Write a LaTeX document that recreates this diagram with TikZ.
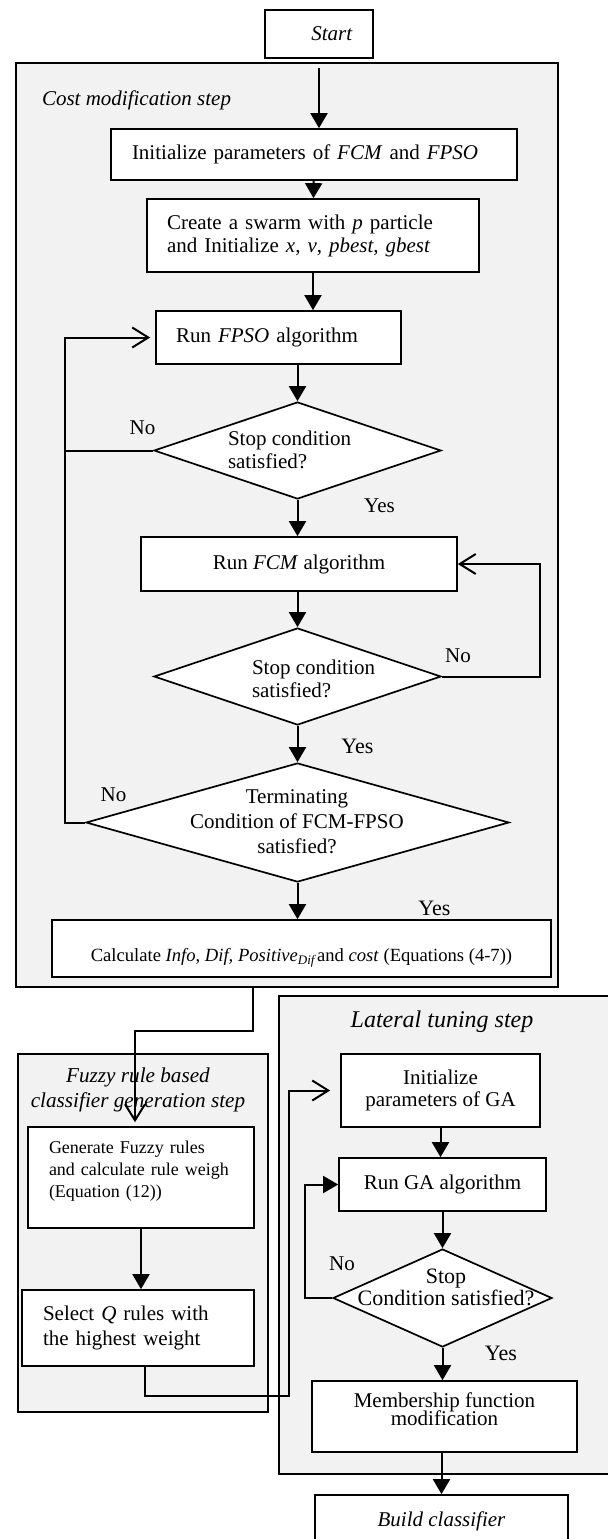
\documentclass[tikz,border=0pt]{standalone}
\usepackage{fontspec}
\setmainfont{Liberation Serif}
\usepackage[dvipsnames]{xcolor}
\usepackage{tikz}
\usetikzlibrary{arrows.meta, shapes.geometric}

\definecolor{stepgray}{RGB}{242,242,242}
\lineskiplimit=-5pt

\begin{document}
\begin{tikzpicture}[x=0.5pt, y=-0.5pt, line width=1pt,
    font=\fontsize{10.5pt}{11.5pt}\selectfont,
    stepbox/.style={draw=black, fill=stepgray, line width=1.1pt, inner sep=0pt},
    procbox/.style={draw=black, fill=white, line width=0.85pt, inner sep=0pt},
    decision/.style={draw=black, fill=white, line width=0.85pt, diamond, inner sep=0pt},
    flow/.style={-{Triangle[length=7.5pt, width=8.5pt]}, line width=1pt},
    back/.style={-{Straight Barb[length=8pt, width=10pt]}, line width=1pt},
    answer/.style={inner sep=0pt}]
    \useasboundingbox (0, 0) rectangle (608, 1539);
    \clip (0, 0) rectangle (608, 1539);

    % draw step boxes
    \node[stepbox, minimum width=271pt, minimum height=462pt] (costbox) at (287, 525) {};
    \node[stepbox, minimum width=125pt, minimum height=179pt] (fuzzybox) at (143, 1233) {};
    \node[stepbox, minimum width=185.5pt, minimum height=239pt] (latbox) at (464.5, 1235) {};

    % draw step titles
    \node[anchor=west, inner sep=0pt, font=\fontsize{10.5pt}{12pt}\selectfont\itshape] (costtitle) at (41, 100) {Cost modification step};
    \node[inner sep=0pt, align=center, font=\fontsize{10.6pt}{12.5pt}\selectfont\itshape] (fuzzytitle) at (138, 1089.5) {Fuzzy rule based\\classifier generation step};
    \node[inner sep=0pt, font=\fontsize{12pt}{14pt}\selectfont\itshape] (lattitle) at (442, 1022) {Lateral tuning step};

    % draw process boxes
    \node[procbox, minimum width=54pt, minimum height=24pt] (start) at (319, 34) {\hspace*{13pt}\textit{Start}};
    \node[procbox, minimum width=203pt, minimum height=25.5pt, text width=182pt, align=left] (init) at (314, 154.5)
      {Initialize parameters of \textit{FCM} and \textit{FPSO}};
    \node[procbox, minimum width=166pt, minimum height=36.5pt, text width=146pt, align=left] (create) at (313, 235.5)
      {Create a swarm with \textit{p} particle\\and Initialize \textit{x}, \textit{v}, \textit{pbest}, \textit{gbest}};
    \node[procbox, minimum width=122.5pt, minimum height=26.5pt, text width=102.5pt, align=left] (fpso) at (278.5, 337.5)
      {Run \textit{FPSO} algorithm};
    \node[procbox, minimum width=158pt, minimum height=27pt] (fcm) at (299, 564) {Run \textit{FCM} algorithm};
    \node[procbox, minimum width=249.5pt, minimum height=28.5pt, text height=15pt, text depth=2.3pt,
      font=\fontsize{9.3pt}{11pt}\selectfont] (calc) at (301.5, 948.5)
      {Calculate \textit{Info}, \textit{Dif, Positive}\textsubscript{\textit{Dif}}and \textit{cost} (Equations (4-7))};
    \node[procbox, minimum width=113pt, minimum height=50.5pt, text width=92pt, align=left, text depth=30.5pt,
      font=\fontsize{9pt}{11pt}\selectfont] (gen) at (141, 1177.5)
      {Generate Fuzzy rules\\and calculate rule weigh\\(Equation (12))};
    \node[procbox, minimum width=116pt, minimum height=38pt, text width=95pt, align=left,
      font=\fontsize{10.5pt}{12.5pt}\selectfont] (selq) at (138, 1328)
      {Select \textit{Q} rules with\\the highest weight};
    \node[procbox, minimum width=99.5pt, minimum height=36.5pt, align=center,
      font=\fontsize{10.5pt}{11pt}\selectfont] (initga) at (440.5, 1090.5) {Initialize\\parameters of GA};
    \node[procbox, minimum width=103.5pt, minimum height=26.5pt] (runga) at (442.5, 1184.5) {Run GA algorithm};
    \node[procbox, minimum width=132.5pt, minimum height=35.5pt, align=center, text depth=7.7pt,
      font=\fontsize{10.5pt}{9pt}\selectfont] (memb) at (444.5, 1416.5)
      {Membership function\\modification};
    \node[procbox, minimum width=126.5pt, minimum height=26.5pt] (build) at (441.5, 1521.5) {\textit{Build classifier}};

    % draw decisions
    \node[decision, minimum width=143.5pt, minimum height=48.5pt] (stop1) at (297.5, 450.5) {};
    \node[anchor=west, inner sep=0pt, align=left] (stop1text) at (227, 449.5) {Stop condition\\satisfied?};
    \node[decision, minimum width=143.5pt, minimum height=48.5pt] (stop2) at (297.5, 676.5) {};
    \node[anchor=west, inner sep=0pt, align=left] (stop2text) at (251, 678.5) {Stop condition\\satisfied?};
    \node[decision, minimum width=211.5pt, minimum height=59.5pt] (term) at (297.5, 822.5) {};
    \node[inner sep=0pt, align=center, font=\fontsize{10.5pt}{12.5pt}\selectfont] (termtext) at (297, 822)
      {Terminating\\Condition of FCM-FPSO\\satisfied?};
    \node[decision, minimum width=109.5pt, minimum height=49pt] (stop3) at (442.5, 1298) {};
    \node[inner sep=0pt, align=center, font=\fontsize{11pt}{11pt}\selectfont] (stop3text) at (446, 1287)
      {Stop\\Condition satisfied?};

    % draw answers
    \node[answer] (no1) at (142.5, 428) {No};
    \node[answer] (yes1) at (379.5, 506) {Yes};
    \node[answer] (no2) at (458, 656) {No};
    \node[answer, font=\fontsize{11pt}{12pt}\selectfont] (yes2) at (357.5, 746) {Yes};
    \node[answer] (no3) at (113.5, 795) {No};
    \node[answer, font=\fontsize{11pt}{12pt}\selectfont] (yes3) at (434.5, 908) {Yes};
    \node[answer] (no4) at (342, 1264) {No};
    \node[answer, font=\fontsize{11pt}{12pt}\selectfont] (yes4) at (501, 1353) {Yes};

    % draw main flow
    \draw[flow, shorten <=4.5pt] (start.south) -- (start.south |- init.north);
    \draw[flow] (init) -- (create);
    \draw[flow] (create.south) -- (create.south |- fpso.north);
    \draw[flow] (fpso.south -| stop1.north) -- (stop1.north);
    \draw[flow] (stop1.south) -- (stop1.south |- fcm.north);
    \draw[flow] (fcm.south -| stop2.north) -- (stop2.north);
    \draw[flow] (stop2) -- (term);
    \draw[flow] (term.south) -- (term.south |- calc.north);

    % draw loops back
    \coordinate (leftrail) at (65, 337.5);
    \draw[back, shorten >=2.5pt] (term.west) -| (leftrail) -- (fpso.west);
    \draw (stop1.west) -- (stop1.west -| leftrail);
    \coordinate (rightrail) at (540, 564);
    \draw[back] (stop2.east) -| (rightrail) -- (fcm.east);

    % draw link to fuzzy step
    \draw[back, shorten >=2pt] ([xshift=-17pt]costbox.south) -- ++(0, 43) -| ([xshift=-3pt]gen.north);
    \draw[flow] (gen.south) -- (gen.south |- selq.north);

    % draw link to lateral step
    \coordinate (garail) at (289, 1396);
    \draw[back, shorten >=5pt] ([xshift=3.5pt]selq.south) |- (garail) |- (initga.west);
    \draw[flow] (initga.south) -- (initga.south |- runga.north);
    \draw[flow] (runga) -- (stop3);
    \draw[flow] (stop3.west) -- ++(-27, 0) |- (runga.west);
    \draw[flow] (stop3.south) -- (stop3.south |- memb.north);
    \draw[flow] (memb.south -| build.north) -- (build.north);

\end{tikzpicture}
\end{document}
